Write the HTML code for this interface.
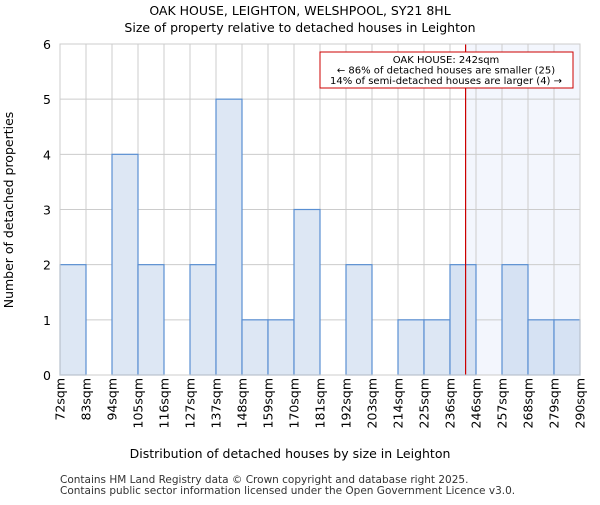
<!DOCTYPE html>
<html><head><meta charset="utf-8"><style>body{margin:0;background:#fff}svg{font-family:"DejaVu Sans","Liberation Sans",sans-serif}</style></head>
<body>
<svg id="c" width="600" height="500" xmlns="http://www.w3.org/2000/svg">
<text x="300" y="15" text-anchor="middle" font-size="12.5">OAK HOUSE, LEIGHTON, WELSHPOOL, SY21 8HL</text>
<text x="300" y="32" text-anchor="middle" font-size="12.5">Size of property relative to detached houses in Leighton</text>
<g id="plot"></g>
<text x="290" y="458" text-anchor="middle" font-size="12.5">Distribution of detached houses by size in Leighton</text>
<text transform="translate(13,210) rotate(-90)" text-anchor="middle" font-size="12.5">Number of detached properties</text>
<text x="60" y="483" font-size="10.5" fill="#333">Contains HM Land Registry data © Crown copyright and database right 2025.</text>
<text x="60" y="494" font-size="10.5" fill="#333">Contains public sector information licensed under the Open Government Licence v3.0.</text>
</svg>
<script>
const binLabels=["72sqm","83sqm","94sqm","105sqm","116sqm","127sqm","137sqm","148sqm","159sqm","170sqm","181sqm","192sqm","203sqm","214sqm","225sqm","236sqm","246sqm","257sqm","268sqm","279sqm","290sqm"];
const counts=[2,0,4,2,0,2,5,1,1,3,0,2,0,1,1,2,0,2,1,1];
const yTicks=[0,1,2,3,4,5,6];
const markerBinPos=15.6;
const NS="http://www.w3.org/2000/svg";
const L=60,R=580,T=44,B=375,yMax=6;
const n=counts.length,bw=(R-L)/n;
const xs=i=>L+i*bw, ys=v=>B-(B-T)*v/yMax;
const g=document.getElementById('plot');
function mk(t,a,p){const e=document.createElementNS(NS,t);for(const k in a)e.setAttribute(k,a[k]);(p||g).appendChild(e);return e;}
const mx=xs(markerBinPos);
let e=mk('rect',{x:mx,y:T,width:R-mx,height:B-T,fill:'#f3f6fd'});


yTicks.forEach(v=>{let l=mk('line',{x1:L,x2:R,y1:ys(v),y2:ys(v),stroke:'#ccc'});


let t=mk('text',{x:L-9,y:ys(v)+5,'text-anchor':'end','font-size':'12.5'});t.textContent=v;

});
binLabels.forEach((s,i)=>{let l=mk('line',{x1:xs(i),x2:xs(i),y1:T,y2:B,stroke:'#ccc'});


let t=mk('text',{transform:`translate(${xs(i)+4.5},378) rotate(-90)`,'text-anchor':'end','font-size':'12.5'});t.textContent=s;

});
counts.forEach((v,i)=>{if(!v)return;let r=mk('rect',{x:xs(i),y:ys(v),width:bw,height:B-ys(v),fill:i+1>markerBinPos?'#d6e2f3':'#dde7f4',stroke:'#5a8fd2','stroke-width':1.2});

});
e=mk('line',{x1:mx,x2:mx,y1:T,y2:B,stroke:'#c00','stroke-width':1.2});


e=mk('rect',{x:320,y:52,width:253,height:36,fill:'#fff',stroke:'#c00'});


["OAK HOUSE: 242sqm","← 86% of detached houses are smaller (25)","14% of semi-detached houses are larger (4) →"].forEach((s,i)=>{let t=mk('text',{x:446,y:63+i*10.5,'text-anchor':'middle','font-size':'10'});t.textContent=s;

});
e=mk('rect',{x:L,y:T,width:R-L,height:B-T,fill:'none',stroke:'#ccc'});


</script>
</body></html>
